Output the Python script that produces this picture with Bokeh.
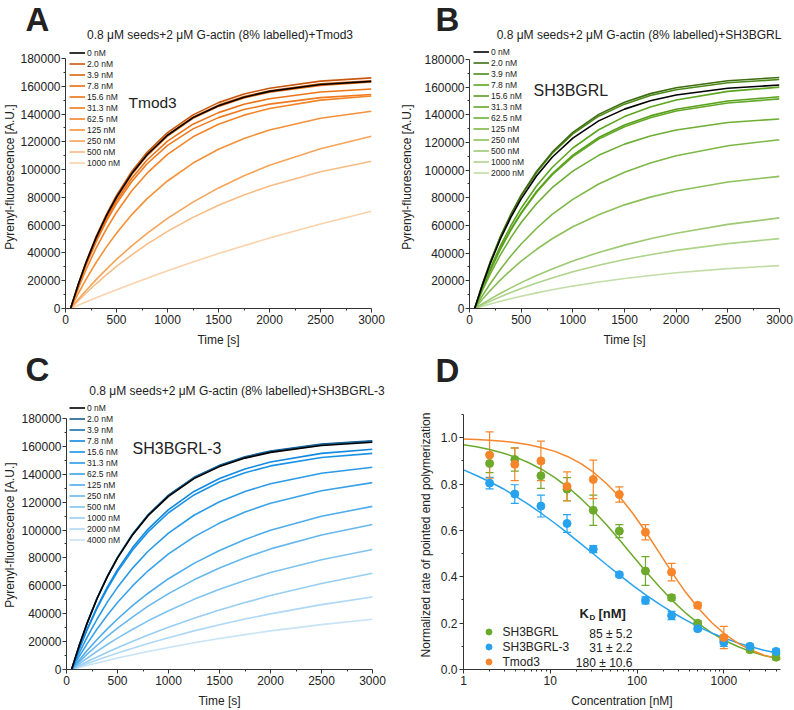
from bokeh.plotting import figure
from bokeh.layouts import column, row
from bokeh.models import (Label, Legend, LegendItem, ColumnDataSource, Whisker, TeeHead,
                          FixedTicker, NumeralTickFormatter, Range1d)
from bokeh.embed import file_html
from bokeh.resources import INLINE

FONT = "Liberation Sans"
INK = "#222222"
AXIS = "#333333"

# ---------------- kinetic traces ----------------
time_s = [50, 125, 200, 300, 400, 500, 650, 800, 1000, 1250, 1500, 1750, 2000, 2500, 3000]

tmod3_labels = ["0 nM", "2.0 nM", "3.9 nM", "7.8 nM", "15.6 nM", "31.3 nM", "62.5 nM",
                "125 nM", "250 nM", "500 nM", "1000 nM"]
tmod3_traces = [
    [0, 17200, 32800, 51000, 66600, 80200, 97100, 110700, 124700, 137400, 146000, 152100, 156300, 161200, 163500],
    [0, 17500, 33300, 51800, 67600, 81400, 98600, 112400, 126600, 139400, 148200, 154400, 158600, 163700, 166000],
    [0, 17000, 32500, 50800, 66300, 79900, 97000, 110800, 125000, 137800, 146400, 152600, 156700, 161700, 164000],
    [0, 16800, 32200, 50300, 65800, 79400, 96400, 110100, 124100, 136900, 145500, 151600, 155700, 160600, 163000],
    [0, 16700, 31700, 49300, 64400, 77500, 93800, 106900, 120500, 132700, 141000, 147000, 151000, 155800, 158000],
    [0, 16200, 30900, 48000, 62700, 75500, 91400, 104200, 117400, 129300, 137400, 143200, 147100, 151800, 154000],
    [0, 14500, 27700, 43400, 57200, 69300, 84800, 97400, 110900, 123600, 132600, 139200, 144000, 150000, 153000],
    [0, 10800, 20800, 33100, 44200, 54200, 67600, 79100, 91800, 104700, 114600, 122400, 128500, 136900, 142000],
    [0, 6600, 12800, 20800, 28200, 35400, 45100, 54100, 64900, 76600, 86800, 95500, 103100, 115000, 124000],
    [0, 5600, 11000, 17800, 24200, 30300, 38600, 46300, 55500, 65600, 74300, 81700, 88200, 98400, 106000],
    [0, 2400, 4700, 7700, 10700, 13500, 17700, 21800, 27200, 33400, 39600, 45200, 50700, 60800, 70000],
]
tmod3_colors = ["#000000", "#C8580E", "#D9640F", "#EA6E10", "#EC7418", "#F07A1E", "#F38428",
                "#F59138", "#F6A458", "#F8BC85", "#FAD2AC"]

sh3bgrl_labels = ["0 nM", "2.0 nM", "3.9 nM", "7.8 nM", "15.6 nM", "31.3 nM", "62.5 nM",
                  "125 nM", "250 nM", "500 nM", "1000 nM", "2000 nM"]
sh3bgrl_traces = [
    [0, 17000, 32400, 50400, 65800, 79200, 95900, 109300, 123100, 135600, 144100, 150200, 154300, 159200, 161500],
    [0, 17600, 33500, 52100, 68000, 81900, 99200, 113000, 127300, 140300, 149100, 155300, 159600, 164600, 167000],
    [0, 17400, 33200, 51700, 67400, 81200, 98300, 112000, 126200, 139000, 147700, 153900, 158100, 163200, 165500],
    [0, 15200, 29000, 45400, 59800, 72500, 88700, 101900, 116000, 129200, 138700, 145600, 150700, 156900, 160000],
    [0, 14500, 27700, 43400, 57200, 69300, 84800, 97400, 110900, 123600, 132600, 139200, 144000, 150000, 153000],
    [0, 14400, 27400, 43000, 56600, 68600, 84000, 96500, 109800, 122400, 131400, 137900, 142700, 148500, 151500],
    [0, 13000, 24800, 38900, 51200, 62100, 75900, 87300, 99300, 110700, 118800, 124700, 129000, 134400, 137000],
    [0, 9300, 17900, 28400, 38000, 46600, 58000, 68000, 78900, 90000, 98500, 105100, 110400, 117600, 122000],
    [0, 6700, 12900, 20700, 27700, 34200, 42800, 50400, 59100, 67800, 74900, 80500, 84900, 91400, 95500],
    [0, 3500, 6800, 11000, 14900, 18700, 23800, 28600, 34300, 40500, 45800, 50400, 54400, 60800, 65500],
    [0, 2700, 5200, 8500, 11500, 14400, 18400, 22000, 26500, 31200, 35400, 38900, 42000, 46900, 50500],
    [0, 1600, 3200, 5200, 7100, 8900, 11300, 13500, 16200, 19200, 21700, 23900, 25800, 28800, 31000],
]
sh3bgrl_colors = ["#000000", "#3F6E12", "#4E8A18", "#5CA51E", "#58A01A", "#63A828", "#6EAE34",
                  "#7CB746", "#8CC05A", "#9DC973", "#AED38A", "#C2DEA6"]

sh3bgrl3_labels = ["0 nM", "2.0 nM", "3.9 nM", "7.8 nM", "15.6 nM", "31.3 nM", "62.5 nM",
                   "125 nM", "250 nM", "500 nM", "1000 nM", "2000 nM", "4000 nM"]
sh3bgrl3_traces = [
    [0, 17200, 32700, 50900, 66400, 79900, 96700, 110300, 124200, 136900, 145500, 151600, 155700, 160600, 163000],
    [0, 17300, 32900, 51200, 66800, 80400, 97400, 111000, 125100, 137800, 146400, 152600, 156700, 161700, 164000],
    [0, 17200, 32800, 51100, 66700, 80200, 97200, 110800, 124800, 137400, 146100, 152200, 156300, 161300, 163600],
    [0, 15000, 28600, 44800, 59100, 71600, 87600, 100700, 114600, 127700, 137000, 143800, 148800, 155000, 158000],
    [0, 14700, 28100, 44000, 57900, 70200, 85900, 98700, 112400, 125200, 134400, 141100, 146000, 152000, 155000],
    [0, 11900, 22900, 36200, 48300, 58900, 72900, 84800, 97800, 110600, 120300, 127700, 133200, 140700, 145000],
    [0, 9400, 18200, 29000, 38900, 48000, 60100, 70800, 82900, 95100, 105000, 112900, 119200, 128200, 134000],
    [0, 6800, 13400, 21500, 29100, 36200, 46000, 54700, 65100, 76100, 85400, 93300, 99800, 109900, 117000],
    [0, 5500, 10800, 17400, 23700, 29700, 37800, 45400, 54400, 64300, 72800, 80100, 86500, 96500, 104000],
    [0, 4100, 8000, 13100, 17900, 22500, 28900, 34900, 42100, 50300, 57500, 63900, 69500, 78700, 86000],
    [0, 2800, 5500, 9000, 12300, 15600, 20200, 24700, 30300, 36700, 42600, 48000, 53000, 61700, 69000],
    [0, 2100, 4100, 6800, 9300, 11800, 15300, 18600, 22800, 27700, 32100, 36200, 39900, 46500, 52000],
    [0, 1500, 2900, 4700, 6400, 8200, 10600, 12900, 15800, 19200, 22200, 25000, 27700, 32200, 36000],
]
sh3bgrl3_colors = ["#000000", "#145E92", "#1670AE", "#1288E0", "#1A92E6", "#2A9AE8", "#3AA2E8",
                   "#4DACEC", "#66B8EE", "#7FC3F0", "#98CEF3", "#AED8F5", "#C7E3F6"]

# ---------------- panel D: normalized rates ----------------
conc_all = [2, 3.9, 7.8, 15.6, 31.3, 62.5, 125, 250, 500, 1000, 2000, 4000]
rate_sh3bgrl = [0.889, 0.906, 0.836, 0.778, 0.687, 0.597, 0.425, 0.31, 0.20, 0.128, 0.085, 0.053]
err_sh3bgrl = [0.04, 0.05, 0.055, 0.05, 0.065, 0.028, 0.062, 0.012, 0.01, 0.02, 0.01, 0.01]
rate_sh3bgrl3 = [0.804, 0.757, 0.705, 0.63, 0.519, 0.409, 0.298, 0.233, 0.176, 0.118, 0.10, 0.078]
err_sh3bgrl3 = [0.025, 0.04, 0.047, 0.038, 0.015, 0.01, 0.015, 0.018, 0.01, 0.018, 0.01, 0.01]
conc_tmod3 = [2, 3.9, 7.8, 15.6, 31.3, 62.5, 125, 250, 500, 1000]
rate_tmod3 = [0.925, 0.885, 0.90, 0.79, 0.82, 0.755, 0.592, 0.42, 0.277, 0.138]
err_tmod3 = [0.10, 0.07, 0.085, 0.063, 0.083, 0.033, 0.033, 0.038, 0.012, 0.048]

fit_conc = [1, 1.41, 2, 2.83, 4, 5.66, 8, 11.3, 16, 22.6, 32, 45, 64, 90, 128, 181, 256,
            362, 512, 724, 1024, 1448, 2048, 2896, 4500]
fit_sh3bgrl = [0.970, 0.961, 0.949, 0.934, 0.916, 0.892, 0.863, 0.828, 0.786, 0.737, 0.682,
               0.622, 0.555, 0.489, 0.421, 0.357, 0.297, 0.244, 0.198, 0.158, 0.125, 0.099,
               0.077, 0.060, 0.045]
fit_sh3bgrl3 = [0.861, 0.837, 0.810, 0.781, 0.747, 0.711, 0.672, 0.631, 0.587, 0.542, 0.496,
                0.451, 0.405, 0.362, 0.320, 0.282, 0.246, 0.214, 0.184, 0.158, 0.135, 0.115,
                0.098, 0.083, 0.068]
fit_tmod3 = [0.994, 0.992, 0.989, 0.985, 0.978, 0.970, 0.957, 0.941, 0.918, 0.888, 0.849,
             0.800, 0.742, 0.672, 0.590, 0.503, 0.415, 0.334, 0.263, 0.203, 0.153, 0.114,
             0.084, 0.062, 0.043]

kd_names = ["SH3BGRL", "SH3BGRL-3", "Tmod3"]
kd_values = ["85 ± 5.2", "31 ± 2.2", "180 ± 10.6"]
GREEN, BLUE, ORANGE = "#6DAA2C", "#27A2EE", "#F7862A"


def style_axes(p):
    p.outline_line_color = None
    p.xgrid.visible = False
    p.ygrid.visible = False
    p.background_fill_color = "white"
    p.border_fill_color = "white"
    for ax in p.axis:
        ax.axis_line_color = AXIS
        ax.major_tick_line_color = AXIS
        ax.minor_tick_line_color = AXIS
        ax.major_tick_out = 4
        ax.major_tick_in = 0
        ax.minor_tick_out = 2
        ax.minor_tick_in = 0
        ax.major_label_text_font = FONT
        ax.major_label_text_font_size = "12px"
        ax.major_label_text_color = INK
        ax.axis_label_text_font = FONT
        ax.axis_label_text_font_size = "12px"
        ax.axis_label_text_font_style = "normal"
        ax.axis_label_text_color = INK
        ax.major_label_standoff = 2


def add_text(p, text, x, y, size, bold=False, align="left", units="screen"):
    p.add_layout(Label(x=x, y=y, x_units=units, y_units=units, text=text,
                       text_font=FONT, text_font_size=f"{size}px",
                       text_font_style="bold" if bold else "normal",
                       text_align=align, text_baseline="alphabetic", text_color=INK))


def header(height, letter, letter_xy, title=None, title_xy=None):
    h = figure(width=397, height=height, x_range=Range1d(0, 397), y_range=Range1d(height, 0),
               output_backend="svg", toolbar_location=None,
               x_axis_location=None, y_axis_location=None,
               min_border=0, min_border_left=0, min_border_right=0,
               min_border_top=0, min_border_bottom=0)
    h.outline_line_color = None
    h.xgrid.visible = False
    h.ygrid.visible = False
    add_text(h, letter, letter_xy[0], letter_xy[1], 33, bold=True, units="data")
    if title:
        add_text(h, title, title_xy[0], title_xy[1], 12, align="center", units="data")
    return h


def kinetic_panel(height, borders, y_end, labels, traces, colors, inner, inner_size, inner_xy,
                  ylab_standoff, legend_xy):
    l, r, t, b = borders
    p = figure(width=397, height=height, x_range=(0, 3000), y_range=(0, y_end),
               output_backend="svg", toolbar_location=None,
               min_border_left=l, min_border_right=r, min_border_top=t, min_border_bottom=b)
    style_axes(p)
    p.xaxis.ticker = FixedTicker(ticks=[0, 500, 1000, 1500, 2000, 2500, 3000],
                                 minor_ticks=[250, 750, 1250, 1750, 2250, 2750])
    p.yaxis.ticker = FixedTicker(ticks=list(range(0, 180001, 20000)),
                                 minor_ticks=list(range(10000, 180000, 20000)))
    p.yaxis.bounds = (0, 180000)
    p.yaxis.formatter = NumeralTickFormatter(format="0")
    p.yaxis.major_label_standoff = 1
    p.xaxis.axis_label = "Time [s]"
    p.xaxis.axis_label_standoff = 6
    p.yaxis.axis_label = "Pyrenyl-fluorescence [A.U.]"
    p.yaxis.axis_label_standoff = ylab_standoff
    rends = []
    for ys, c in zip(traces, colors):
        rends.append(p.line(time_s, ys, line_color=c, line_width=1.6))
    p.renderers = list(reversed(p.renderers))  # black drawn last (on top)
    items = [LegendItem(label=lab, renderers=[rr]) for lab, rr in zip(labels, rends)]
    leg = Legend(items=items, location=legend_xy, label_text_font=FONT,
                 label_text_font_size="8.5px", label_text_color=INK,
                 label_height=11, glyph_height=11, glyph_width=16, label_standoff=2,
                 spacing=0, padding=0, margin=0, border_line_color=None,
                 background_fill_alpha=0)
    p.add_layout(leg)
    add_text(p, inner, inner_xy[0], inner_xy[1], inner_size)
    return p


hA = header(45, "A", (25, 19), "0.8 μM seeds+2 μM G-actin (8% labelled)+Tmod3", (219.5, 34))
hB = header(45, "B", (38, 19), "0.8 μM seeds+2 μM G-actin (8% labelled)+SH3BGRL", (241.5, 34))
hC = header(51, "C", (25, 20), "0.8 μM seeds+2 μM G-actin (8% labelled)+SH3BGRL-3", (236.5, 41))
hD = header(51, "D", (38, 21))

pA = kinetic_panel(304, (59, 26, 0, 40), 189323, tmod3_labels, tmod3_traces, tmod3_colors,
                   "Tmod3", 15.5, (63, 206), 0, (4, 140))
pB = kinetic_panel(304, (71, 15, 0, 40), 190080, sh3bgrl_labels, sh3bgrl_traces, sh3bgrl_colors,
                   "SH3BGRL", 16, (64, 218), 7, (4, 130))
pC = kinetic_panel(310, (60, 25, 0, 41), 192908, sh3bgrl3_labels, sh3bgrl3_traces, sh3bgrl3_colors,
                   "SH3BGRL-3", 16, (66, 221), 1, (3, 124))

# ---------------- panel D ----------------
pD = figure(width=397, height=310, x_axis_type="log", x_range=(1, 4500), y_range=(0, 1.1605),
            output_backend="svg", toolbar_location=None,
            min_border_left=66, min_border_right=14, min_border_top=0, min_border_bottom=41)
style_axes(pD)
pD.xaxis.ticker = FixedTicker(ticks=[1, 10, 100, 1000],
                              minor_ticks=[2, 3, 4, 5, 6, 7, 8, 9, 20, 30, 40, 50, 60, 70, 80, 90,
                                           200, 300, 400, 500, 600, 700, 800, 900, 2000, 3000, 4000])
pD.xaxis.formatter = NumeralTickFormatter(format="0")
pD.yaxis.ticker = FixedTicker(ticks=[0, 0.2, 0.4, 0.6, 0.8, 1.0],
                              minor_ticks=[0.1, 0.3, 0.5, 0.7, 0.9, 1.1])
pD.yaxis.bounds = (0, 1.1)
pD.yaxis.formatter = NumeralTickFormatter(format="0.0")
pD.xaxis.axis_label = "Concentration [nM]"
pD.yaxis.axis_label = "Normalized rate of pointed end polymerization"
pD.xaxis.axis_label_standoff = 6
pD.yaxis.axis_label_standoff = 5

series = [
    (conc_all, rate_sh3bgrl, err_sh3bgrl, fit_sh3bgrl, GREEN),
    (conc_all, rate_sh3bgrl3, err_sh3bgrl3, fit_sh3bgrl3, BLUE),
    (conc_tmod3, rate_tmod3, err_tmod3, fit_tmod3, ORANGE),
]
for xs, ys, es, fit, c in series:
    pD.line(fit_conc, fit, line_color=c, line_width=1.5)
point_rends = []
for xs, ys, es, fit, c in series:
    src = ColumnDataSource(dict(x=xs, y=ys,
                                upper=[y + e for y, e in zip(ys, es)],
                                lower=[y - e for y, e in zip(ys, es)]))
    pD.add_layout(Whisker(source=src, base="x", upper="upper", lower="lower",
                          line_color=c, line_width=1.2,
                          upper_head=TeeHead(size=8, line_color=c, line_width=1.2),
                          lower_head=TeeHead(size=8, line_color=c, line_width=1.2)))
    point_rends.append(pD.scatter("x", "y", source=src, size=8, fill_color=c, line_color=c))

legD = Legend(items=[LegendItem(label=n, renderers=[r]) for n, r in zip(kd_names, point_rends)],
              location=(17.5, 0), label_text_font=FONT, label_text_font_size="12px",
              label_text_color=INK, label_height=15, glyph_height=15, glyph_width=15,
              label_standoff=7, spacing=0, padding=0, margin=0, border_line_color=None,
              background_fill_alpha=0)
pD.add_layout(legD)
add_text(pD, "K", 116, 56, 13, bold=True)
add_text(pD, "D", 126, 52, 8, bold=True)
add_text(pD, "[nM]", 135, 56, 13, bold=True)
for i, v in enumerate(kd_values):
    add_text(pD, v, 169, 36 - 14.5 * i, 12, align="right")

layout = column(row(hA, hB), row(pA, pB), row(hC, hD), row(pC, pD))
with open("out.html", "w", encoding="utf-8") as f:
    f.write(file_html(layout, INLINE))
